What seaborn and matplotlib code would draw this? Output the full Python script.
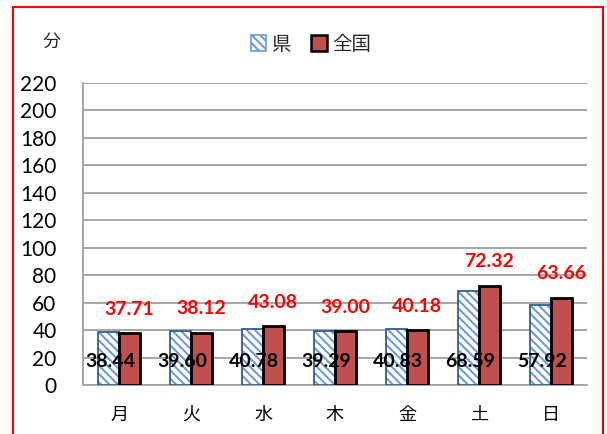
import matplotlib
matplotlib.use("Agg")
import matplotlib.pyplot as plt
import matplotlib.patches as mpatches
import pandas as pd
import seaborn as sns

# Average minutes per day of week: prefecture vs. national
days = ["月", "火", "水", "木", "金", "土", "日"]
pref_minutes = [38.44, 39.60, 40.78, 39.29, 40.83, 68.59, 57.92]
nation_minutes = [37.71, 38.12, 43.08, 39.00, 40.18, 72.32, 63.66]
series_names = ["県", "全国"]
y_ticks = list(range(0, 221, 20))
unit_label = "分"

HATCH_BLUE = "#6F9AD6"
EDGE_BLUE = "#2F5D96"
RED = "#C0504D"

sns.set_theme(style="white")
plt.rcParams["font.family"] = ["Lato", "Noto Sans CJK JP", "DejaVu Sans"]
plt.rcParams["hatch.linewidth"] = 1.5

df = pd.DataFrame({
    "day": days * 2,
    "minutes": pref_minutes + nation_minutes,
    "area": [series_names[0]] * len(days) + [series_names[1]] * len(days),
})

fig = plt.figure(figsize=(6.07, 4.34), dpi=100)
ax = fig.add_axes([83 / 607, 1 - 385 / 434, (587 - 83) / 607, (385 - 82.7) / 434])

sns.barplot(data=df, x="day", y="minutes", hue="area", order=days,
            hue_order=series_names, palette=["white", RED],
            width=0.57, dodge=True, legend=False, ax=ax, zorder=3)

pref_bars, nation_bars = ax.containers[0], ax.containers[1]
for p in pref_bars:
    # hatch takes the edge colour, so the dark outline is drawn on top
    p.set_facecolor("white")
    p.set_hatch("\\\\\\\\")
    p.set_edgecolor(HATCH_BLUE)
    p.set_linewidth(0)
    ax.add_patch(mpatches.Rectangle(p.get_xy(), p.get_width(), p.get_height(),
                                    fill=False, edgecolor=EDGE_BLUE,
                                    linewidth=1.3, zorder=3.5))
for p in nation_bars:
    p.set_facecolor(RED)
    p.set_edgecolor("black")
    p.set_linewidth(2.0)
    p.set_zorder(4)

# National values above the bars in red
ax.bar_label(nation_bars, labels=[f"{v:.2f}" for v in nation_minutes],
             padding=11, color="#FF0000", fontsize=14, fontweight="bold",
             zorder=5)
# Prefecture values inside the lower part of the bars in black
for p, v in zip(pref_bars, pref_minutes):
    ax.text(p.get_x() + p.get_width() / 2 + 0.02, 17, f"{v:.2f}",
            ha="center", va="center", color="black", fontsize=14,
            fontweight="bold", zorder=6)

ax.set_ylim(0, 220)
ax.set_xlim(-0.5, 6.5)
ax.set_yticks(y_ticks)
ax.set_xlabel("")
ax.set_ylabel("")
ax.yaxis.grid(True, color="#A6A6A6", linewidth=1.4, zorder=0)
ax.set_axisbelow(True)
for side in ["top", "right"]:
    ax.spines[side].set_visible(False)
for side in ["left", "bottom"]:
    ax.spines[side].set_color("#A6A6A6")
    ax.spines[side].set_linewidth(1.4)
ax.tick_params(axis="y", length=0, pad=19, labelsize=15, labelcolor="black")
ax.tick_params(axis="x", length=0, pad=15, labelsize=13, labelcolor="black")
for lab in ax.get_xticklabels():
    lab.set_fontfamily(["Noto Sans CJK JP", "DejaVu Sans"])

fig.text(52 / 607, 1 - 42 / 434, unit_label, ha="center", va="center",
         fontsize=13, family=["Noto Sans CJK JP", "DejaVu Sans"])

handles = [
    mpatches.Patch(facecolor="white", hatch="\\\\\\\\", edgecolor=HATCH_BLUE,
                   linewidth=1.2, label=series_names[0]),
    mpatches.Patch(facecolor=RED, edgecolor="black", linewidth=1.8,
                   label=series_names[1]),
]
fig.legend(handles=handles, loc="center", bbox_to_anchor=(311 / 607, 1 - 44 / 434),
           ncol=2, frameon=False, handlelength=0.8, handleheight=0.9,
           handletextpad=0.3, columnspacing=1.0,
           prop={"family": ["Noto Sans CJK JP", "DejaVu Sans"], "size": 14})

# Outer red frame
frame = mpatches.Rectangle((13 / 607, -0.05), (603 - 13) / 607, 1.05 - 6.6 / 434,
                           transform=fig.transFigure, fill=False,
                           edgecolor="#FF0000", linewidth=1.5, clip_on=False)
fig.add_artist(frame)

fig.savefig("out.png", dpi=100)
